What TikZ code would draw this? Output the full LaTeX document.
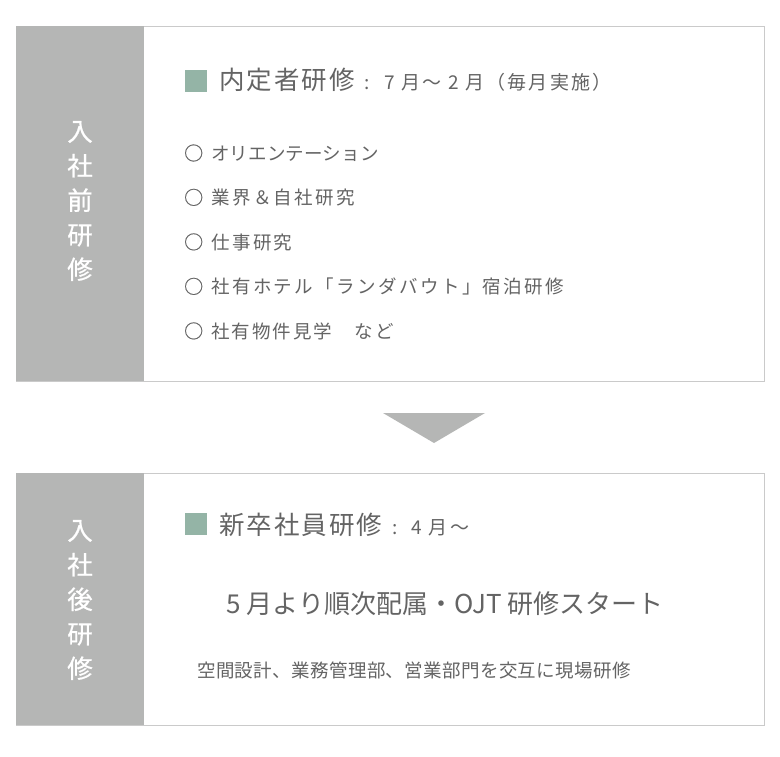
\documentclass[tikz,border=0pt]{standalone}
\usepackage{fontspec}
\setmainfont{Noto Sans CJK JP}
\newfontfamily\jpbold[FakeBold=0.6]{Noto Sans CJK JP}
\definecolor{panel}{HTML}{B5B6B5}
\definecolor{frame}{HTML}{CACACA}
\definecolor{txt}{HTML}{646464}
\definecolor{mark}{HTML}{94B4A6}
\newcommand{\smallpart}{\fontsize{19}{20}\selectfont\addfontfeature{LetterSpace=12}}
\tikzset{
  box/.style={draw=frame, line width=1.2pt, fill=white, anchor=north west, inner sep=0, minimum width=748, minimum height=#1},
  side/.style={fill=panel, anchor=north west, inner sep=0, minimum width=128, minimum height=#1},
  vlabel/.style={text=white, align=center, inner sep=0, font=\fontsize{25.5}{34.5}\selectfont\jpbold},
  sq/.style={fill=mark, inner sep=0, minimum width=22, minimum height=22, anchor=north west},
  ttl/.style={text=txt, anchor=base west, inner sep=0, font=\fontsize{25.5}{30}\selectfont\addfontfeature{LetterSpace=8}},
  item/.style={text=txt, anchor=west, inner sep=0, font=\fontsize{18.5}{22}\selectfont\addfontfeature{LetterSpace=#1}},
  item/.default=13,
  big/.style={text=txt, anchor=center, inner sep=0, font=\fontsize{26}{30}\selectfont},
  note/.style={text=txt, anchor=center, inner sep=0, font=\fontsize{18.5}{22}\selectfont\addfontfeature{LetterSpace=2}},
}
\newcommand{\bul}{{\fontsize{19}{22}\selectfont\addfontfeature{LetterSpace=0}\jpbold ○}\hspace{8pt}}
\begin{document}
\begin{tikzpicture}[x=1pt,y=-1pt]
\useasboundingbox[fill=white] (0,0) rectangle (780,757);
% box 1
\node[box=355] (box1) at (16,26) {};
\node[side=355] (side1) at (16,26) {};
\node[vlabel] (lab1) at (80,201) {入\\社\\前\\研\\修};
\node[sq] (sq1) at (185,69.5) {};
\node[ttl] (t1) at (219,90) {内定者研修{\smallpart\hspace{10pt}:\hspace{14pt}7 月〜 2 月（毎月実施）}};
\node[item=1] (i1) at (184,153) {\bul オリエンテーション};
\node[item] (i2) at (184,197.5) {\bul 業界＆自社研究};
\node[item] (i3) at (184,242) {\bul 仕事研究};
\node[item] (i4) at (184,286.5) {\bul 社有ホテル「ランダバウト」宿泊研修};
\node[item=11] (i5) at (184,331) {\bul 社有物件見学　など};
% arrow
\fill[panel] (383,413) -- (485,413) -- (434,443) -- cycle;
% box 2
\node[box=252] (box2) at (16,473) {};
\node[side=252] (side2) at (16,473) {};
\node[vlabel] (lab2) at (80,600) {入\\社\\後\\研\\修};
\node[sq] (sq2) at (185,513) {};
\node[ttl] (t2) at (219,534) {新卒社員研修{\smallpart\hspace{10pt}:\hspace{14pt}4 月〜}};
\node[big] (b1) at (445,604) {5 月より順次配属・OJT 研修スタート};
\node[note] (b2) at (414,670) {空間設計、業務管理部、営業部門を交互に現場研修};
\end{tikzpicture}
\end{document}
